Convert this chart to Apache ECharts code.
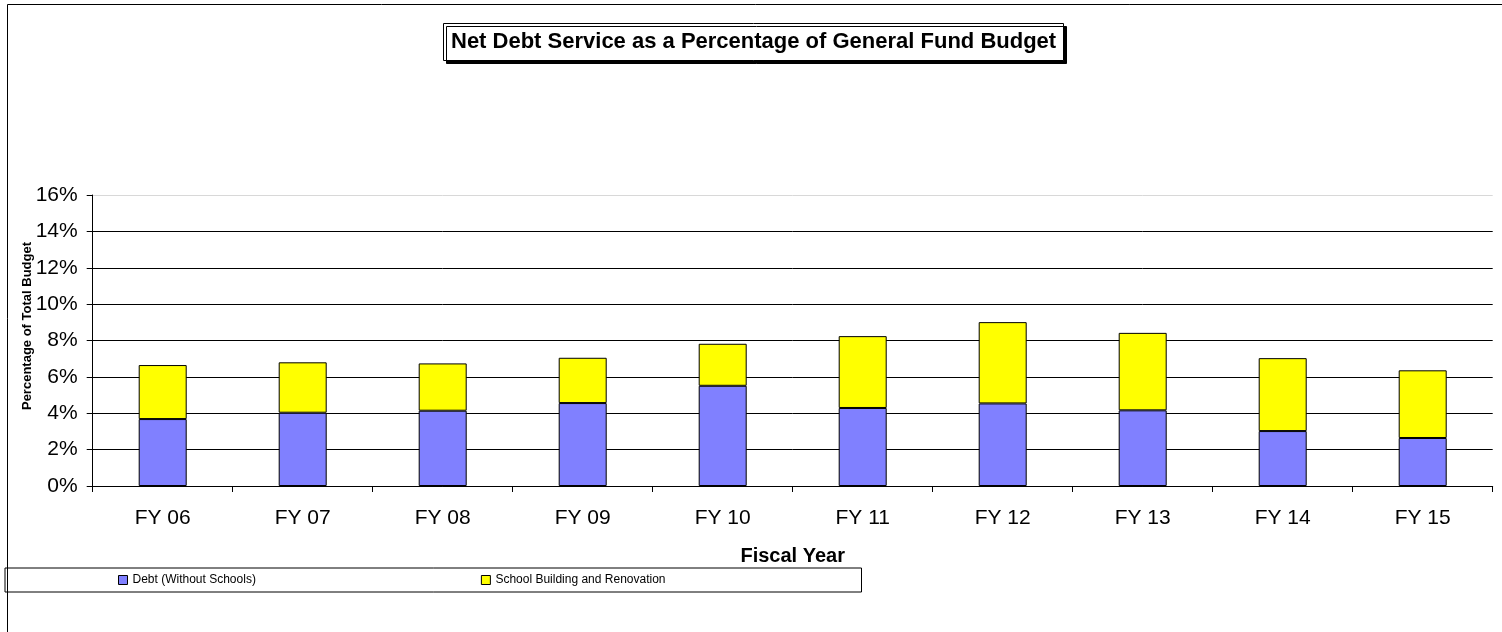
<!DOCTYPE html>
<html>
<head>
<meta charset="utf-8">
<script src="https://cdn.jsdelivr.net/npm/echarts@6/dist/echarts.min.js"></script>
<style>
  html, body { margin: 0; padding: 0; background: #fff; }
  #chart { width: 1502px; height: 632px; }
</style>
</head>
<body>
<div id="chart"></div>
<script>
// values (percent of general fund budget)
var years = ["FY 06", "FY 07", "FY 08", "FY 09", "FY 10", "FY 11", "FY 12", "FY 13", "FY 14", "FY 15"];
var debtNoSchools = [3.68, 4.03, 4.14, 4.56, 5.51, 4.29, 4.54, 4.16, 3.02, 2.64];
var schoolBuilding = [2.97, 2.77, 2.60, 2.49, 2.31, 3.95, 4.47, 4.26, 4.01, 3.72];
var seriesNames = ["Debt (Without Schools)", "School Building and Renovation"];

var font = "Liberation Sans, Arial, sans-serif";
var myChart = echarts.init(document.getElementById("chart"));

myChart.setOption({
  animation: false,
  backgroundColor: "#ffffff",
  title: {
    text: "Net Debt Service as a Percentage of General Fund Budget",
    left: 443,
    top: 23,
    padding: [8, 8, 8, 8],
    borderColor: "#000",
    borderWidth: 1,
    backgroundColor: "#fff",
    shadowColor: "#000",
    shadowOffsetX: 3,
    shadowOffsetY: 3,
    shadowBlur: 0.01,
    textStyle: {
      fontFamily: font,
      fontSize: 22,
      fontWeight: "bold",
      color: "#000"
    }
  },
  legend: {
    data: seriesNames,
    left: 5,
    top: 568,
    orient: "horizontal",
    padding: [6, 196, 6, 113],
    itemGap: 225,
    itemWidth: 9,
    itemHeight: 9,
    borderColor: "#000",
    borderWidth: 1,
    icon: "rect",
    itemStyle: { borderColor: "#000", borderWidth: 1 },
    textStyle: { fontFamily: font, fontSize: 12, color: "#000" }
  },
  grid: {
    left: 92.7,
    right: 9.3,
    top: 195,
    bottom: 146,
    outerBoundsMode: "none"
  },
  xAxis: {
    type: "category",
    data: years,
    name: "Fiscal Year",
    nameLocation: "middle",
    nameGap: 60,
    nameTextStyle: { fontFamily: font, fontSize: 20, fontWeight: "bold", color: "#000" },
    axisLine: { lineStyle: { color: "#000", width: 1 } },
    axisTick: { show: true, length: 6, lineStyle: { color: "#000" } },
    axisLabel: { margin: 22, fontFamily: font, fontSize: 21, color: "#000" },
    splitLine: { show: false }
  },
  yAxis: {
    type: "value",
    min: 0,
    max: 16,
    interval: 2,
    axisLine: { show: true, lineStyle: { color: "#000", width: 1 } },
    axisTick: { show: true, length: 6, lineStyle: { color: "#000" } },
    axisLabel: {
      margin: 15,
      formatter: "{value}%",
      fontFamily: font,
      fontSize: 21,
      color: "#000"
    },
    splitLine: {
      show: true,
      lineStyle: {
        color: ["#000", "#000", "#000", "#000", "#000", "#000", "#000", "#000", "#d8d8d8"],
        width: 1
      }
    }
  },
  graphic: [
    {
      type: "rect",
      silent: true,
      shape: { x: 7.5, y: 4.5, width: 1600, height: 700 },
      style: { fill: "none", stroke: "#000", lineWidth: 1 }
    },
    {
      type: "text",
      silent: true,
      x: 27,
      y: 326,
      rotation: Math.PI / 2,
      style: {
        text: "Percentage of Total Budget",
        fontFamily: font,
        fontSize: 13,
        fontWeight: "bold",
        fill: "#000",
        align: "center",
        verticalAlign: "middle"
      }
    }
  ],
  series: [
    {
      name: seriesNames[0],
      type: "bar",
      stack: "total",
      barWidth: 48,
      data: debtNoSchools,
      itemStyle: { color: "#8080ff", borderColor: "#000", borderWidth: 1 }
    },
    {
      name: seriesNames[1],
      type: "bar",
      stack: "total",
      barWidth: 48,
      data: schoolBuilding,
      itemStyle: { color: "#ffff00", borderColor: "#000", borderWidth: 1 }
    }
  ]
});
</script>
</body>
</html>
